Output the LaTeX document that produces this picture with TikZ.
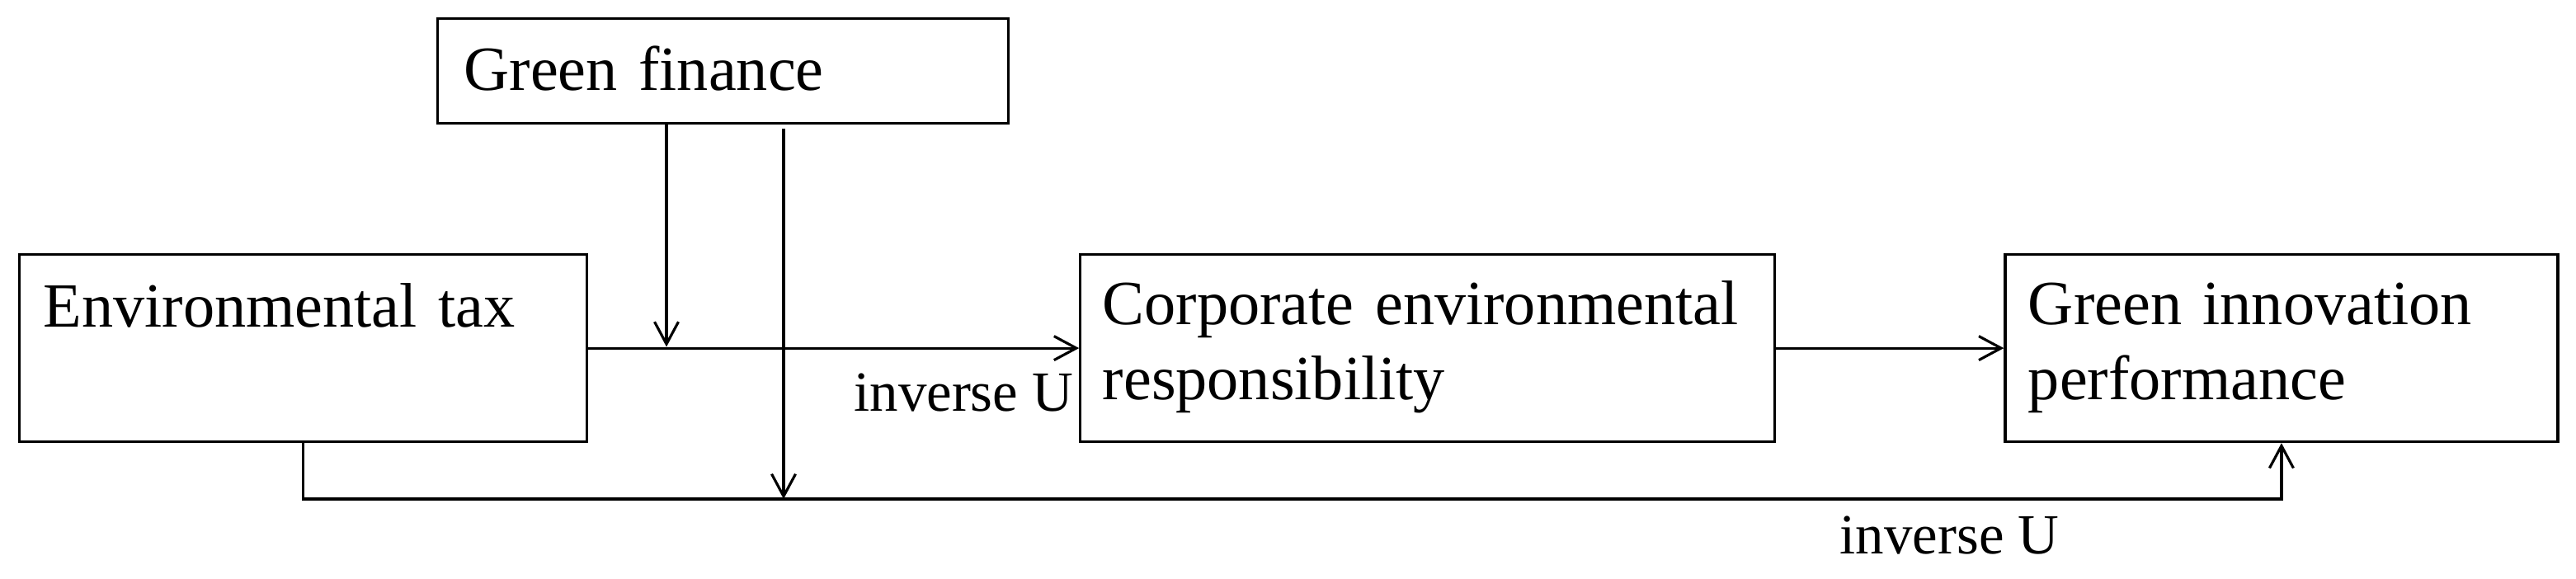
\documentclass[tikz,border=0pt]{standalone}
\usepackage{fontspec}
\setmainfont{Liberation Serif}
\usetikzlibrary{positioning,arrows.meta}

\tikzset{
  box/.style={draw, line width=0.9pt, inner ysep=0pt, align=left,
    font=\fontsize{21.7}{25.9}\selectfont},
  lbl/.style={inner sep=0pt, font=\fontsize{19.6}{23}\selectfont},
  >={Straight Barb[length=0.27cm,width=0.29cm]}
}

\begin{document}
\begin{tikzpicture}
    \useasboundingbox (0,0) rectangle (31.23,-7.01);
    \node[box, anchor=north west, inner xsep=0.32cm, text width=6.28cm, text height=0.87cm, text depth=0.40cm] (gf) at (5.29,-0.21) {Green finance};
    \node[box, anchor=north west, inner xsep=0.29cm, text width=6.30cm, text height=0.88cm, text depth=1.39cm] (tax) at (0.22,-3.07) {Environmental tax};
    \node[box, right=5.95cm of tax, inner xsep=0.27cm, text width=7.88cm, text height=0.85cm, text depth=1.42cm] (cer) {Corporate environmental\\responsibility};
    \node[box, right=2.76cm of cer, inner xsep=0.28cm, text width=6.14cm, text height=0.85cm, text depth=1.42cm] (gip) {Green innovation\\performance};
    % moderating arrows
    \coordinate (m1) at (8.08,-4.205);
    \coordinate (low) at (9.50,-6.05);
    \draw[line width=0.9pt, ->] (tax) -- (cer);
    \draw[line width=0.9pt, ->] (cer) -- (gip);
    \draw[line width=0.9pt, ->] (tax.south) |- (low) -| (gip.south);
    \draw[line width=0.9pt, ->] (gf.south -| m1) -- (m1);
    \draw[line width=0.9pt, ->] ([yshift=-0.05cm]gf.south -| low) -- (low);
    \node[lbl, anchor=base east] (u1) at (13.02,-4.98) {inverse U};
    \node[lbl, anchor=base west] (u2) at (22.30,-6.71) {inverse U};
  \end{tikzpicture}
\end{document}
